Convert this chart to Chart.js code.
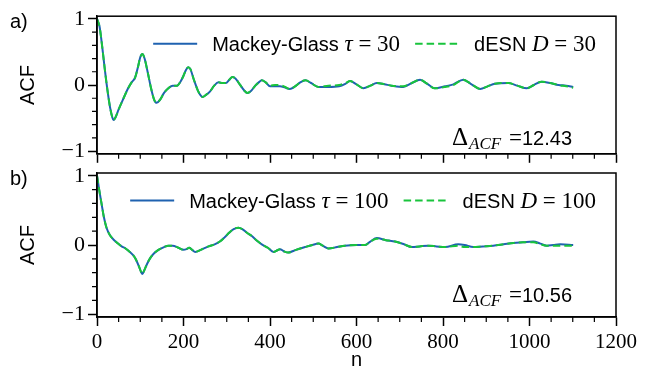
<!DOCTYPE html>
<html>
<head>
<meta charset="utf-8">
<script src="https://cdn.jsdelivr.net/npm/chart.js@4.4.1/dist/chart.umd.min.js"></script>
<style>
  html, body { margin: 0; padding: 0; background: #fff; }
  #wrap { position: relative; width: 647px; height: 383px; overflow: hidden; }
  canvas { position: absolute; left: 0; }
  #panelA { top: 0; }
  #panelB { top: 150px; }
</style>
</head>
<body>
<div id="wrap">
  <canvas id="panelA" width="647" height="170"></canvas>
  <canvas id="panelB" width="647" height="233"></canvas>
</div>
<script>
// ---- axis ticks ----
const xTicks = [0, 200, 400, 600, 800, 1000, 1200];
const yTicks = [-1, 0, 1];

// ---- panel a: Mackey-Glass (tau = 30) vs delay ESN (D = 30) ----
const lagsA = [0, 6, 12, 18, 24, 30, 35, 38, 42, 50, 60, 72, 80, 88, 95, 100, 105, 110, 117, 125,
  132, 138, 146, 155, 165, 175, 185, 193, 200, 206, 211, 216, 224, 233, 240, 244, 252, 261, 271, 281,
  290, 298, 306, 313, 320, 330, 340, 348, 356, 366, 374, 381, 390, 400, 412, 423, 435, 446, 458, 470,
  482, 495, 512, 535, 560, 575, 585, 600, 616, 632, 647, 665, 681, 708, 728, 747, 763, 781, 805, 824,
  847, 866, 886, 903, 920, 951, 972, 994, 1010, 1028, 1048, 1067, 1085, 1101];
const mackeyGlass30 = [1.00, 0.88, 0.58, 0.24, -0.07, -0.33, -0.48, -0.53, -0.50, -0.37, -0.22, -0.05, 0.04, 0.11, 0.28, 0.42, 0.47, 0.40, 0.20, -0.05,
  -0.22, -0.27, -0.22, -0.12, -0.05, -0.01, -0.01, 0.05, 0.14, 0.23, 0.27, 0.24, 0.08, -0.08, -0.16, -0.18, -0.15, -0.10, -0.01, 0.04,
  0.03, 0.03, 0.08, 0.12, 0.10, 0.01, -0.08, -0.12, -0.09, -0.01, 0.04, 0.07, 0.04, -0.02, -0.02, -0.02, -0.04, -0.06, -0.02, 0.04,
  0.07, 0.03, -0.03, -0.03, -0.02, 0.02, 0.06, 0.01, -0.05, -0.01, 0.03, 0.01, -0.01, -0.03, 0.03, 0.08, 0.02, -0.05, -0.02, 0.01,
  0.08, 0.01, -0.06, -0.02, 0.02, 0.03, -0.01, -0.05, 0.00, 0.05, 0.03, 0.00, -0.01, -0.03];
const desn30 = [1.00, 0.88, 0.58, 0.24, -0.07, -0.33, -0.48, -0.53, -0.50, -0.37, -0.22, -0.05, 0.04, 0.11, 0.28, 0.42, 0.47, 0.40, 0.20, -0.05,
  -0.22, -0.27, -0.22, -0.12, -0.05, -0.01, -0.01, 0.05, 0.14, 0.23, 0.27, 0.24, 0.08, -0.08, -0.16, -0.18, -0.15, -0.10, -0.01, 0.04,
  0.03, 0.03, 0.08, 0.12, 0.10, 0.01, -0.08, -0.12, -0.09, -0.01, 0.04, 0.07, 0.04, -0.01, 0.00, 0.00, -0.03, -0.06, -0.02, 0.04,
  0.07, 0.03, -0.03, -0.01, 0.00, 0.03, 0.06, 0.01, -0.05, -0.01, 0.03, 0.01, -0.01, -0.02, 0.03, 0.08, 0.02, -0.05, -0.03, 0.00,
  0.08, 0.01, -0.06, -0.02, 0.02, 0.03, -0.01, -0.05, 0.00, 0.05, 0.03, 0.00, -0.02, -0.04];

// ---- panel b: Mackey-Glass (tau = 100) vs delay ESN (D = 100) ----
const lagsB = [0, 5, 11, 16, 22, 30, 38, 47, 57, 66, 76, 84, 90, 97, 102, 105, 109, 116, 123, 132,
  142, 155, 165, 175, 188, 200, 207, 213, 220, 227, 240, 258, 272, 284, 295, 306, 316, 327, 336, 346,
  358, 370, 381, 395, 408, 416, 423, 432, 442, 460, 481, 498, 512, 522, 535, 555, 573, 600, 620, 632,
  647, 668, 689, 710, 728, 746, 766, 785, 805, 835, 850, 870, 892, 916, 940, 963, 985, 1009, 1025, 1040,
  1055, 1071, 1101];
const mackeyGlass100 = [1.00, 0.80, 0.58, 0.40, 0.25, 0.14, 0.08, 0.03, -0.02, -0.05, -0.10, -0.15, -0.21, -0.31, -0.39, -0.42, -0.37, -0.27, -0.19, -0.12,
  -0.07, -0.03, -0.01, -0.01, -0.04, -0.07, -0.06, -0.04, -0.07, -0.10, -0.07, -0.02, 0.01, 0.05, 0.11, 0.18, 0.23, 0.25, 0.23, 0.18,
  0.13, 0.06, 0.01, -0.04, -0.10, -0.08, -0.06, -0.09, -0.11, -0.07, -0.03, 0.00, 0.02, -0.01, -0.05, -0.03, -0.01, 0.00, 0.00, 0.05,
  0.10, 0.07, 0.05, 0.01, -0.03, -0.02, -0.01, -0.02, -0.03, 0.01, 0.00, -0.03, -0.02, -0.01, 0.01, 0.03, 0.04, 0.05, 0.02, -0.01,
  0.00, 0.01, 0.00];
const desn100 = [1.00, 0.80, 0.58, 0.40, 0.25, 0.14, 0.08, 0.03, -0.02, -0.05, -0.10, -0.15, -0.21, -0.31, -0.39, -0.42, -0.37, -0.27, -0.19, -0.12,
  -0.07, -0.03, -0.01, -0.01, -0.04, -0.07, -0.06, -0.04, -0.07, -0.10, -0.07, -0.02, 0.01, 0.05, 0.11, 0.18, 0.23, 0.25, 0.23, 0.18,
  0.13, 0.06, 0.01, -0.04, -0.10, -0.08, -0.06, -0.09, -0.11, -0.07, -0.03, 0.00, 0.02, -0.01, -0.05, -0.03, -0.01, 0.00, 0.00, 0.05,
  0.09, 0.07, 0.05, 0.01, -0.03, -0.02, -0.01, -0.02, -0.03, -0.01, -0.03, -0.03, -0.02, -0.01, 0.01, 0.03, 0.04, 0.04, 0.01, -0.01,
  -0.01, -0.01, -0.01];

// ---- legend and annotation text ----
const legendA = [['Mackey-Glass ', '\u03C4', ' = 30'], ['dESN ', 'D', ' = 30']];
const legendB = [['Mackey-Glass ', '\u03C4', ' = 100'], ['dESN ', 'D', ' = 100']];
const deltaA = '12.43';
const deltaB = '10.56';

// ---- styling ----
const BLUE = '#1f62b0';
const GREEN = '#19c43c';
const SANS = '"Liberation Sans", Arial, sans-serif';
const SERIF = '"Liberation Serif", "Times New Roman", serif';
const F_SANS = '20px ' + SANS;
const F_SERIF = '23px ' + SERIF;
const F_ITAL = 'italic 23px ' + SERIF;
const F_DELTA = '25px ' + SERIF;
const F_SUB = 'italic 17px ' + SERIF;

// draws a run of text pieces with their own fonts, aligned right at x
function drawRuns(ctx, runs, x, y, alignRight) {
  const w = runsWidth(ctx, runs);
  let cx = alignRight ? x - w : x;
  ctx.textAlign = 'left';
  ctx.textBaseline = 'alphabetic';
  for (const r of runs) {
    ctx.font = r.f;
    ctx.fillText(r.t, cx, y + (r.dy || 0));
    cx += ctx.measureText(r.t).width + (r.gap || 0);
  }
  return w;
}
function runsWidth(ctx, runs) {
  let w = 0;
  for (const r of runs) { ctx.font = r.f; w += ctx.measureText(r.t).width + (r.gap || 0); }
  return w;
}
function legendRuns(parts) {
  return [{ t: parts[0], f: F_SANS }, { t: parts[1], f: F_ITAL }, { t: parts[2], f: F_SERIF }];
}

// frame, minor ticks, legend, annotations
const panelDecor = {
  id: 'panelDecor',
  afterDraw(chart, args, o) {
    const { ctx, chartArea: a } = chart;
    const x = chart.scales.x, y = chart.scales.y;
    ctx.save();
    ctx.strokeStyle = '#000';
    ctx.fillStyle = '#000';
    // minor ticks
    ctx.lineWidth = 1.2;
    ctx.beginPath();
    for (let v = 50; v < 1200; v += 50) {
      if (v % 200 === 0) continue;
      const px = x.getPixelForValue(v);
      ctx.moveTo(px, a.bottom); ctx.lineTo(px, a.bottom + 5);
    }
    for (let k = -4; k <= 4; k++) {
      if (k === 0) continue;
      const py = y.getPixelForValue(k * 0.2);
      ctx.moveTo(a.left - 5, py); ctx.lineTo(a.left, py);
    }
    ctx.stroke();
    // frame
    ctx.lineWidth = 1.5;
    ctx.strokeRect(a.left, a.top, a.right - a.left, a.bottom - a.top);

    // legend (two columns, upper right)
    const ds = chart.data.datasets;
    const r2 = legendRuns(o.legend[1]), r1 = legendRuns(o.legend[0]);
    const base = a.top + 35, lineY = a.top + 27.5;
    const handle = 44, gapT = 15, gapH = 15;
    let right = a.right - 20;
    const w2 = runsWidth(ctx, r2);
    drawRuns(ctx, r2, right, base, true);
    let hx = right - w2 - gapT;
    const drawHandle = (d, xe) => {
      ctx.save();
      ctx.strokeStyle = d.borderColor; ctx.lineWidth = d.borderWidth;
      ctx.setLineDash(d.borderDash || []);
      ctx.beginPath(); ctx.moveTo(xe - handle, lineY); ctx.lineTo(xe, lineY); ctx.stroke();
      ctx.restore();
    };
    drawHandle(ds[1], hx);
    right = hx - handle - gapH;
    const w1 = runsWidth(ctx, r1);
    drawRuns(ctx, r1, right, base, true);
    drawHandle(ds[0], right - w1 - gapT);

    // Delta_ACF annotation
    drawRuns(ctx, [
      { t: '\u0394', f: F_DELTA, gap: 1 },
      { t: 'ACF', f: F_SUB, dy: 4, gap: 2 },
      { t: ' =', f: F_SERIF },
      { t: o.delta, f: F_SANS }
    ], a.right - 44, a.top + 129, true);

    // panel letter
    ctx.font = F_SANS;
    ctx.textAlign = 'left';
    ctx.fillText(o.letter, a.left - 87, a.top + 12);
    ctx.restore();
  }
};

function makePanel(id, lags, mg, esn, labels, legend, delta, letter, padTop, xHeight, showX) {
  return new Chart(document.getElementById(id), {
    type: 'line',
    data: {
      datasets: [
        {
          label: labels[0],
          data: lags.map((n, i) => ({ x: n, y: mg[i] })),
          borderColor: BLUE, borderWidth: 2, pointRadius: 0,
          cubicInterpolationMode: 'monotone', fill: false, order: 2
        },
        {
          label: labels[1],
          data: lags.map((n, i) => ({ x: n, y: esn[i] })),
          borderColor: GREEN, borderWidth: 2, borderDash: [7.5, 4], pointRadius: 0,
          cubicInterpolationMode: 'monotone', fill: false, order: 1
        }
      ]
    },
    options: {
      responsive: false,
      animation: false,
      devicePixelRatio: 1,
      layout: { padding: { left: 0, right: 31, top: padTop, bottom: 0 } },
      plugins: {
        legend: { display: false },
        tooltip: { enabled: false },
        panelDecor: { legend, delta, letter }
      },
      scales: {
        x: {
          type: 'linear', min: 0, max: 1200,
          afterBuildTicks: s => { s.ticks = xTicks.map(v => ({ value: v })); },
          afterFit: s => { s.height = xHeight; },
          ticks: {
            display: showX, color: '#000', padding: 4, maxRotation: 0,
            font: { family: SERIF, size: 21 },
            callback: v => String(v)
          },
          grid: { drawOnChartArea: false, drawTicks: true, tickLength: 9, tickWidth: 1.5, tickColor: '#000' },
          border: { display: true, color: '#000', width: 1.5 },
          title: {
            display: showX, text: 'n', color: '#000',
            font: { family: SANS, size: 20 }, padding: { top: 0, bottom: 11 }
          }
        },
        y: {
          min: -1.04, max: 1.04,
          afterBuildTicks: s => { s.ticks = yTicks.map(v => ({ value: v })); },
          afterFit: s => { s.width = 97; },
          ticks: {
            color: '#000', padding: 3,
            font: { family: SERIF, size: 22 },
            callback: v => (v < 0 ? '\u2212' + Math.abs(v) : String(v))
          },
          grid: { drawOnChartArea: false, drawTicks: true, tickLength: 9, tickWidth: 1.5, tickColor: '#000' },
          border: { display: true, color: '#000', width: 1.5 },
          title: {
            display: true, text: 'ACF', color: '#000',
            font: { family: SANS, size: 20 }, padding: { top: 16, bottom: 0 }
          }
        }
      }
    },
    plugins: [panelDecor]
  });
}

makePanel('panelA', lagsA, mackeyGlass30, desn30,
  ['Mackey-Glass \u03C4 = 30', 'dESN D = 30'], legendA, deltaA, 'a)', 13, 12, false);
makePanel('panelB', lagsB, mackeyGlass100, desn100,
  ['Mackey-Glass \u03C4 = 100', 'dESN D = 100'], legendB, deltaB, 'b)', 23, 66, true);
</script>
</body>
</html>
